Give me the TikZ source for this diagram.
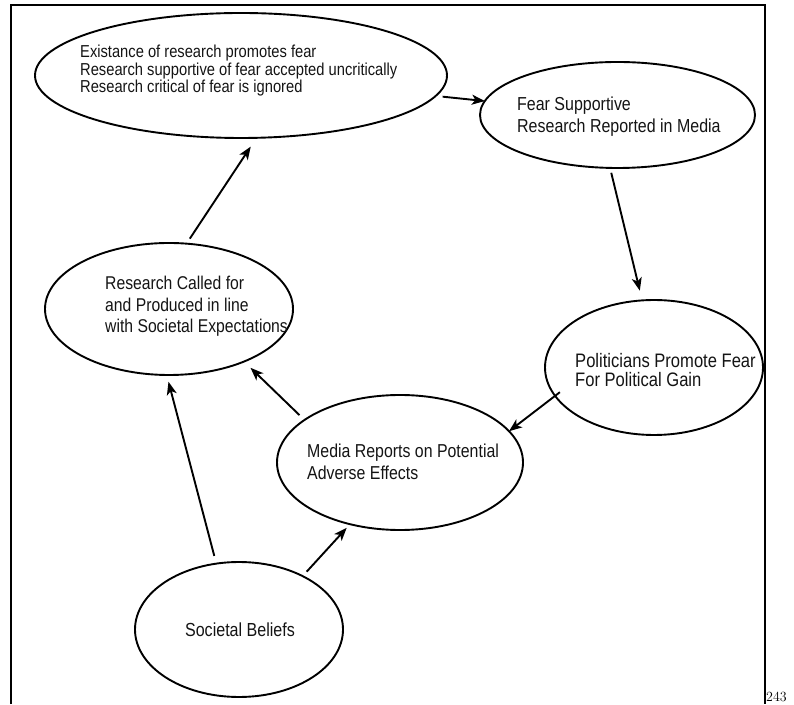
\documentclass[tikz,border=0pt]{standalone}
\usepackage{fontspec}
\newfontfamily\lab{Liberation Sans}[FakeStretch=0.85]
\usetikzlibrary{shapes.geometric,arrows.meta}
\begin{document}
\begin{tikzpicture}[x=1pt,y=1pt,
  ell/.style={draw=black, line width=1.9pt, ellipse, inner sep=0pt, outer sep=0pt},
  lbl/.style={anchor=west, align=left, inner sep=0pt, text=black!92},
  arr/.style={draw=black, line width=1.9pt, -{Stealth[length=13pt,width=10pt,inset=3.5pt]}},
  frameline/.style={line width=2.5pt}]
\useasboundingbox (0,0) rectangle (794,704);
\draw[frameline] (11,0) -- (11,699) -- (765,699) -- (765,0);
% ellipses
\node[ell, minimum width=412pt, minimum height=125pt] (T) at (241,628.5) {};
\node[ell, minimum width=275pt, minimum height=106pt] (F) at (617.5,589) {};
\node[ell, minimum width=218pt, minimum height=135pt] (P) at (654,336.5) {};
\node[ell, minimum width=248pt, minimum height=132pt] (R) at (169,395) {};
\node[ell, minimum width=246pt, minimum height=135pt] (M) at (400,241.5) {};
\node[ell, minimum width=208pt, minimum height=135pt] (S) at (239,74.5) {};
% texts
\node[lbl, font={\lab\fontsize{17.3}{17.5}\selectfont}] (Tt) at (80,633.4)
  {Existance of research promotes fear\\Research supportive of fear accepted uncritically\\Research critical of fear is ignored};
\node[lbl, font={\lab\fontsize{18.8}{22}\selectfont}] (Ft) at (517,587.8)
  {Fear Supportive\\Research Reported in Media};
\node[lbl, font={\lab\fontsize{19.5}{19}\selectfont}] (Pt) at (575,333.5)
  {Politicians Promote Fear\\For Political Gain};
\node[lbl, font={\lab\fontsize{18.5}{21.5}\selectfont}] (Rt) at (105,397.3)
  {Research Called for\\and Produced in line\\with Societal Expectations};
\node[lbl, font={\lab\fontsize{18.7}{22}\selectfont}] (Mt) at (307,241.8)
  {Media Reports on Potential\\Adverse Effects};
\node[lbl, anchor=center, font={\lab\fontsize{18.9}{22}\selectfont}] (St) at (240,73.9)
  {Societal Beliefs};
% arrows
\draw[arr, shorten <=7pt] (T.354.54) -- (F.174.8);
\draw[arr, shorten <=5pt, shorten >=10pt] (F.262.6) -- (P.100.95);
\draw[arr, shorten <=-6pt] (P.196.6) -- (M.16.9);
\draw[arr, shorten <=7pt, shorten >=9pt] (M.156.6) -- (R.325.4);
\draw[arr, shorten <=8pt, shorten >=7pt] (S.109.9) -- (R.268.4);
\draw[arr, shorten <=6pt, shorten >=5pt] (S.40.2) -- (M.231);
\draw[arr, shorten <=6pt, shorten >=10.5pt] (R.75) -- (T.284.7);
% page number
\node[anchor=base west, inner sep=0pt, font=\fontsize{14}{14}\selectfont] (pg) at (766,3) {243};
\end{tikzpicture}
\end{document}
